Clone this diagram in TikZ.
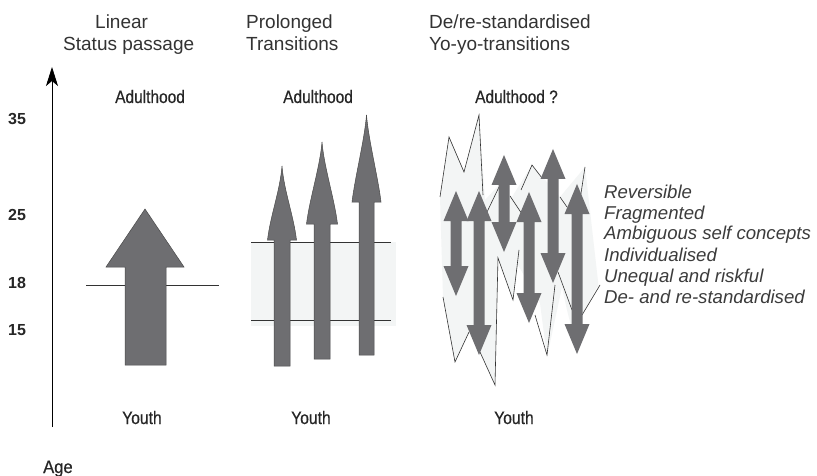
\documentclass[tikz,border=0pt]{standalone}
\usepackage{fontspec}
\usepackage{graphicx}
\setmainfont{Liberation Sans}
\newfontfamily\condfont[FakeBold=0.6]{Liberation Sans}
\usetikzlibrary{arrows.meta}
\definecolor{arrowgray}{HTML}{6E6E71}
\definecolor{edgegray}{HTML}{4A4A4A}
\definecolor{bandgray}{HTML}{F3F5F5}
\definecolor{txtgray}{HTML}{333333}
\definecolor{traitgray}{HTML}{3C3C3C}
\newcommand\dblarr[3]{\fill[arrowgray] ({#1-5.5},{#2+30}) -- ({#1-12.5},{#2+30}) -- (#1,#2) -- ({#1+12.5},{#2+30}) -- ({#1+5.5},{#2+30}) -- ({#1+5.5},{#3-30}) -- ({#1+12.5},{#3-30}) -- (#1,#3) -- ({#1-12.5},{#3-30}) -- ({#1-5.5},{#3-30}) -- cycle;}
\newcommand\spear[6]{% x-left shaft, x-right shaft, bottom, head base y, head half width, tip y
\filldraw[fill=arrowgray, draw=edgegray, line width=0.5pt]
 (#1,#3) -- (#1,#4) -- ({(#1+#2)/2-#5},#4) .. controls ({(#1+#2)/2-#5+3},{#4-25}) and ({(#1+#2)/2-2},{#6+25}) .. ({(#1+#2)/2},#6)
 .. controls ({(#1+#2)/2+2},{#6+25}) and ({(#1+#2)/2+#5-3},{#4-25}) .. ({(#1+#2)/2+#5},#4) -- (#2,#4) -- (#2,#3) -- cycle;}
\begin{document}
\begin{tikzpicture}[x=1pt,y=-1pt,
 title/.style={inner sep=0pt, anchor=base west, text=txtgray, font=\fontsize{19}{21}\selectfont},
 lbl/.style={inner sep=0pt, anchor=base west, text=black!85, font=\condfont\fontsize{18}{20}\selectfont},
 num/.style={inner sep=0pt, anchor=base west, text=black!85, font=\fontsize{16}{18}\selectfont\bfseries},
 trait/.style={inner sep=0pt, anchor=base west, text=traitgray, font=\fontsize{18.6}{21}\selectfont\itshape},
 thinline/.style={draw=black!80, line width=0.8pt},
 zig/.style={draw=black!80, line width=0.6pt, line join=miter},
 ]
\useasboundingbox (0,0) rectangle (817,476);
\fill[white] (0,0) rectangle (817,476);

% titles
\node[title] (t1a) at (95,29) {Linear};
\node[title] (t1b) at (63,50.5) {Status passage};
\node[title] (t2a) at (246,29) {Prolonged};
\node[title] (t2b) at (246,50.5) {Transitions};
\node[title] (t3a) at (429,29) {De/re-standardised};
\node[title] (t3b) at (429,50.5) {Yo-yo-transitions};

% axis
\coordinate (axbot) at (52,427);
\coordinate (axtop) at (52,67);
\draw[line width=0.8pt, -{Stealth[length=19pt,width=12pt,inset=5pt]}] (axbot) -- (axtop);
\node[num] (n35) at (8,125) {35};
\node[num] (n25) at (8,220) {25};
\node[num] (n18) at (8,288) {18};
\node[num] (n15) at (8,335) {15};
\node[lbl] (age) at (43,473) {\scalebox{0.92}[1]{Age}};

% labels
\node[lbl] (ad1) at (115,103) {\scalebox{0.86}[1]{Adulthood}};
\node[lbl] (ad2) at (283,103) {\scalebox{0.86}[1]{Adulthood}};
\node[lbl] (ad3) at (475,103) {\scalebox{0.86}[1]{Adulthood ?}};
\node[lbl] (y1) at (122,424) {\scalebox{0.87}[1]{Youth}};
\node[lbl] (y2) at (291,424) {\scalebox{0.87}[1]{Youth}};
\node[lbl] (y3) at (494,424) {\scalebox{0.87}[1]{Youth}};

% linear
\draw[thinline] (86,285) -- (219,285);
\filldraw[fill=arrowgray, draw=edgegray, line width=0.5pt]
 (125,365) -- (125,267) -- (106,267) -- (145,209) -- (184,267) -- (166,267) -- (166,365) -- cycle;

% prolonged
\fill[bandgray] (251,242) rectangle (396,326);
\draw[thinline] (251,242) -- (391,242);
\draw[thinline] (251,320) -- (391,320);
\spear{274}{290}{366}{240}{14.5}{166}
\spear{314}{330}{359}{224}{15.5}{142}
\spear{359}{374}{355}{202}{14.5}{115}

% yo-yo
\fill[bandgray] (440,197) -- (449,137) -- (464,172) -- (479,115) -- (485,200) -- (498,186) -- (512,197) -- (532,165)
 -- (560,197) -- (585,167) -- (599,290) -- (597,287) -- (582,315) -- (576,345) -- (567,310) -- (562,287)
 -- (547,357) -- (540,303) -- (518,265) -- (513,300) -- (498,258) -- (495,385) -- (480,352) -- (469,332)
 -- (455,362) -- (443,297) -- cycle;
\draw[zig] (440,197) -- (449,137) -- (464,172) -- (479,115) -- (483,195);
\draw[zig] (487,212) -- (499,187);
\draw[zig] (510,196) -- (522,214);
\draw[zig] (521,190) -- (532,165) -- (542,178);
\draw[zig] (560,197) -- (567,207);
\draw[zig] (585,167) -- (580,200);
\draw[zig] (443,297) -- (455,362) -- (469,332);
\draw[zig] (480,352) -- (495,385) -- (498,258) -- (513,300) -- (519,250);
\draw[zig] (535,315) -- (547,355) -- (555,285);
\draw[zig] (558,272) -- (572,310);
\draw[zig] (582,315) -- (600,285);
\dblarr{456}{191}{296}
\dblarr{479}{191}{355}
\dblarr{504}{155}{252}
\dblarr{529}{192}{323}
\dblarr{553}{149}{283}
\dblarr{577}{184}{354}

% traits
\node[trait] (r1) at (604,198) {Reversible};
\node[trait] (r2) at (604,219) {Fragmented};
\node[trait] (r3) at (604,240) {Ambiguous self concepts};
\node[trait] (r4) at (604,261) {Individualised};
\node[trait] (r5) at (604,282) {Unequal and riskful};
\node[trait] (r6) at (604,303) {De- and re-standardised};
\end{tikzpicture}
\end{document}
